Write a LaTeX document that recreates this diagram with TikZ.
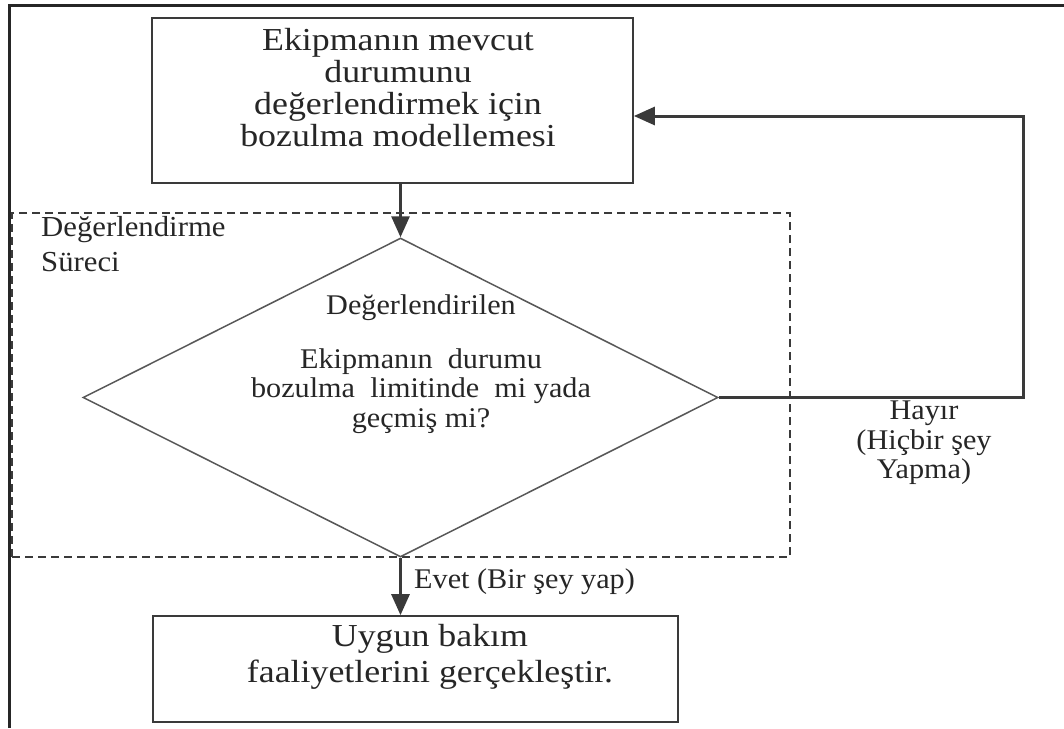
\documentclass[tikz,border=0pt]{standalone}
\usepackage{fontspec}
\setmainfont{Liberation Serif}
\newfontfamily\boxserif[FakeStretch=1.12]{Liberation Serif}
\newfontfamily\lblserif[FakeStretch=1.06]{Liberation Serif}
\usetikzlibrary{shapes.geometric,arrows.meta}

\definecolor{ink}{HTML}{262626}
\definecolor{edge}{HTML}{3A3A3A}

\begin{document}
\begin{tikzpicture}[x=1pt,y=-1pt,
  every node/.style={text=ink, inner sep=0pt},
  procbox/.style={draw=edge, line width=1.7pt, rectangle},
  decision/.style={draw=edge!85, line width=1.5pt, diamond, shape aspect=2},
  region/.style={draw=edge, line width=1.6pt, dash pattern=on 8pt off 5pt},
  conn/.style={draw=edge, line width=3pt, -{Triangle[length=21pt,width=18pt]}},
  boxtext/.style={font=\boxserif\fontsize{32}{32}\selectfont, align=center},
  lbltext/.style={font=\lblserif\fontsize{28.5}{29.5}\selectfont, align=center},
  frameline/.style={draw=black!85, line width=3pt}]

\useasboundingbox (0,0) rectangle (1064,728);
\fill[white] (0,0) rectangle (1064,728);

% page frame
\draw[frameline] (9,728) -- (9,5) -- (1064,5);

% evaluation region (dashed)
\node[region, minimum width=778pt, minimum height=344pt] (proc) at (401,385) {};
\node[lbltext, align=left, anchor=north west,
      font=\lblserif\fontsize{29}{35}\selectfont] (proclbl) at (41,216)
      {Değerlendirme\\Süreci};

% modelling step
\node[procbox, minimum width=481pt, minimum height=165pt] (top) at (392.5,100.5) {};
\node[boxtext] (toptxt) at (398,88)
  {Ekipmanın mevcut\\durumunu\\değerlendirmek için\\bozulma modellemesi};

% decision
\node[decision, minimum width=635pt, minimum height=319pt] (dia) at (400.5,397.5) {};
\node[lbltext] (diahead) at (421,308) {Değerlendirilen};
\node[lbltext] (diatxt) at (421,391)
  {Ekipmanın\ \ durumu\\bozulma\ \ limitinde\ \ mi yada\\geçmiş mi?};

% maintenance step
\node[procbox, minimum width=525pt, minimum height=106pt] (bot) at (415.5,669) {};
\node[boxtext, font=\boxserif\fontsize{32}{36}\selectfont] (bottxt) at (430,657)
  {Uygun bakım\\faaliyetlerini gerçekleştir.};

% connectors
\draw[conn] (dia.north |- top.south) -- (dia.north);
\draw[conn] (dia.south) -- (dia.south |- bot.north);
\coordinate (fbturn) at (1023,116);
\draw[conn] (dia.east) -| (fbturn) -- (fbturn -| top.east);

% branch labels
\node[lbltext, anchor=west] (yes) at (414,582) {Evet (Bir şey yap)};
\node[lbltext] (no) at (924,443) {Hayır\\(Hiçbir şey\\Yapma)};

\end{tikzpicture}
\end{document}
